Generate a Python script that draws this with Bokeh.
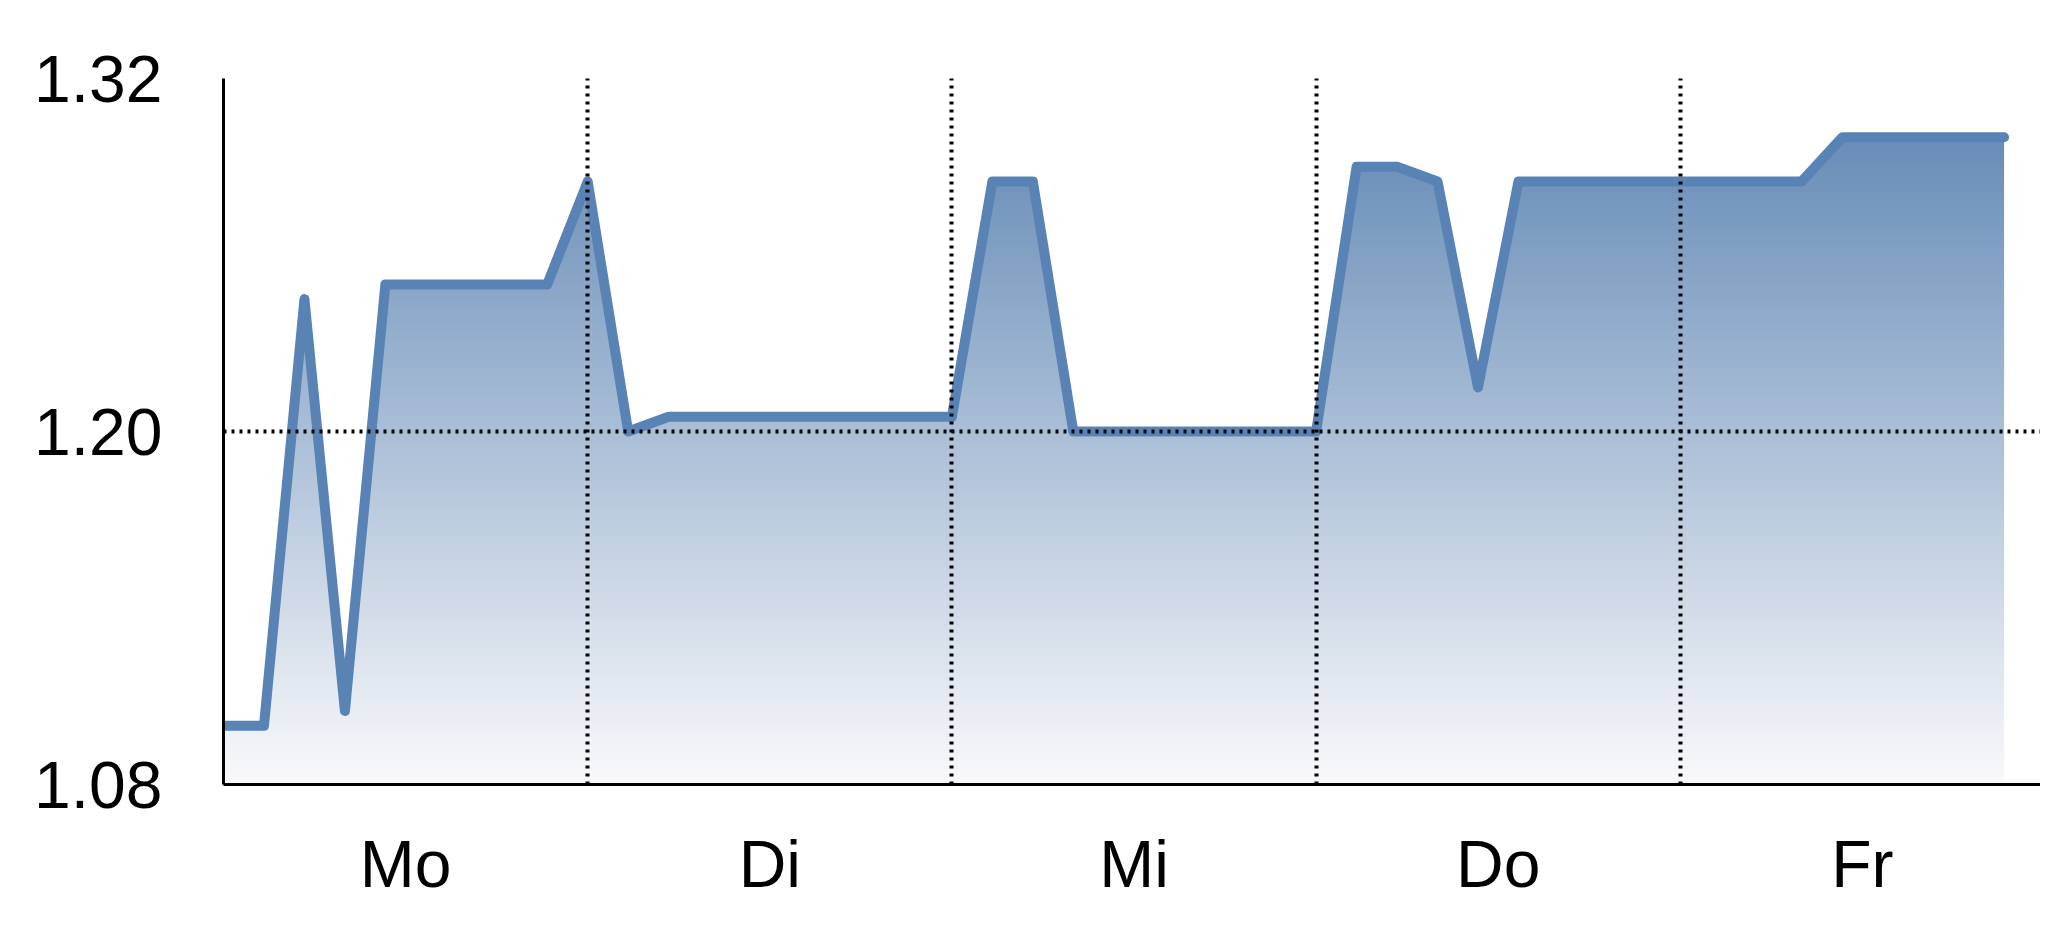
import numpy as np
from bokeh.plotting import figure
from bokeh.models import FixedTicker, Range1d
from bokeh.embed import file_html
from bokeh.resources import INLINE

# ---------------- data ----------------
days = ["Mo", "Di", "Mi", "Do", "Fr"]
points_per_day = 9
values = [1.10, 1.10, 1.245, 1.105, 1.25, 1.25, 1.25, 1.25, 1.25,
          1.285, 1.20, 1.205, 1.205, 1.205, 1.205, 1.205, 1.205, 1.205,
          1.205, 1.285, 1.285, 1.20, 1.20, 1.20, 1.20, 1.20, 1.20,
          1.20, 1.29, 1.29, 1.285, 1.215, 1.285, 1.285, 1.285, 1.285,
          1.285, 1.285, 1.285, 1.285, 1.30, 1.30, 1.30, 1.30, 1.30]
y_ticks = [1.08, 1.20, 1.32]
y_tick_labels = ["1.08", "1.20", "1.32"]
y_grid_values = [1.20]

x = list(range(len(values)))
y_min, y_max = y_ticks[0], y_ticks[-1]

FONT = "Liberation Sans"
LINE_COLOR = "#5983b5"
TOP_RGB = np.array([104, 141, 184], dtype=float)
BOTTOM_RGB = np.array([249, 249, 251], dtype=float)

p = figure(width=2040, height=921, output_backend="svg", toolbar_location=None,
           x_range=Range1d(0, 44.9), y_range=Range1d(y_min, y_max),
           min_border_left=223, min_border_right=0, min_border_top=78,
           min_border_bottom=137)
p.outline_line_color = None
p.background_fill_color = "white"
p.border_fill_color = "white"

# gradient fill (vertical) under the line
n = 256
t = np.linspace(0.0, 1.0, n)[:, None]
rgb = BOTTOM_RGB[None, :] + t * (TOP_RGB - BOTTOM_RGB)[None, :]
img = np.zeros((n, 2), dtype=np.uint32)
view = img.view(dtype=np.uint8).reshape((n, 2, 4))
for c in range(3):
    view[:, :, c] = np.round(rgb[:, c])[:, None].astype(np.uint8)
view[:, :, 3] = 255
p.image_rgba(image=[img], x=x[0], y=y_min, dw=x[-1] - x[0], dh=max(values) - y_min)

# white mask above the line
p.varea(x=x, y1=values, y2=[y_max] * len(values), fill_color="white", fill_alpha=1.0)

# the line itself
p.line(x, values, line_color=LINE_COLOR, line_width=10, line_join="round", line_cap="round")

# grids
p.xgrid.ticker = FixedTicker(ticks=[points_per_day * k for k in range(1, len(days))])
p.ygrid.ticker = FixedTicker(ticks=y_grid_values)
for g in (p.xgrid, p.ygrid):
    g.grid_line_color = "black"
    g.grid_line_width = 4
    g.grid_line_dash = "3 5"
    g.level = "overlay"

# x axis
x_label_pos = [points_per_day * (k + 0.5) for k in range(len(days))]
p.xaxis.ticker = FixedTicker(ticks=x_label_pos)
p.xaxis.major_label_overrides = {pos: d for pos, d in zip(x_label_pos, days)}
p.xaxis.major_label_standoff = 36

# y axis
p.yaxis.ticker = FixedTicker(ticks=y_ticks)
p.yaxis.major_label_overrides = {v: s for v, s in zip(y_ticks, y_tick_labels)}
p.yaxis.major_label_standoff = 55

for ax in (p.xaxis, p.yaxis):
    ax.axis_line_color = "black"
    ax.axis_line_width = 3
    ax.major_tick_line_color = None
    ax.minor_tick_line_color = None
    ax.major_label_text_font = FONT
    ax.major_label_text_font_size = "66px"
    ax.major_label_text_color = "black"

open("out.html", "w").write(file_html(p, INLINE))
